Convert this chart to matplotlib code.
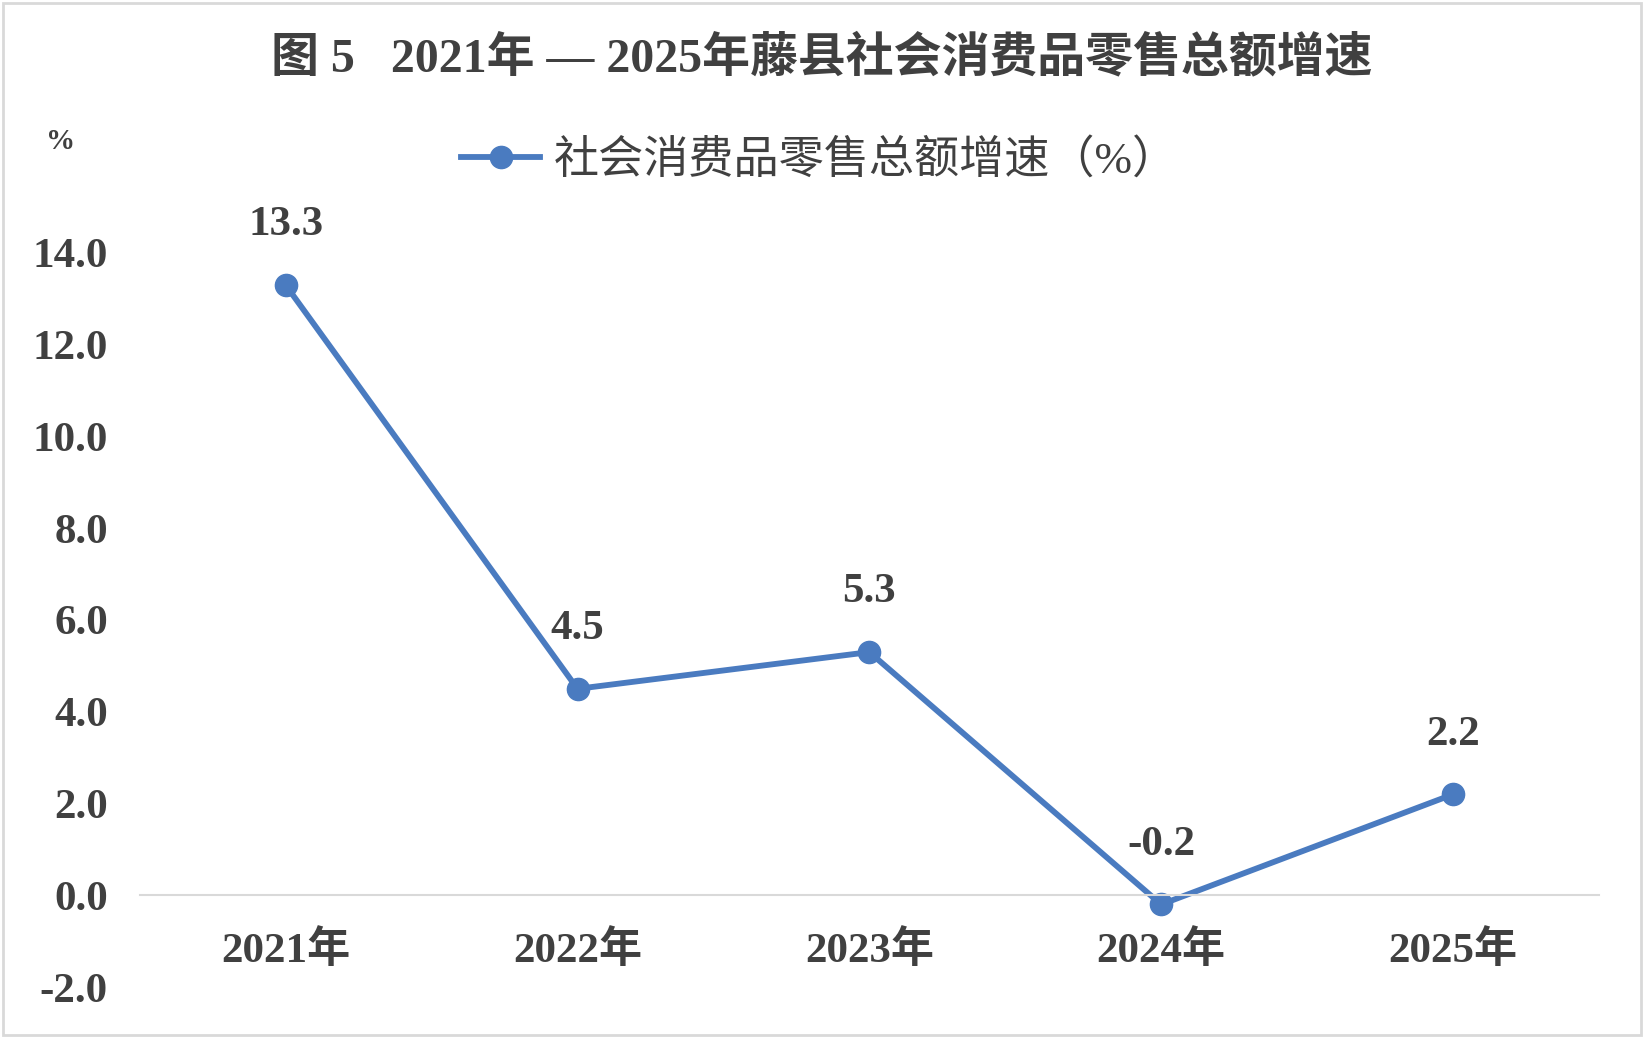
import numpy as np
import matplotlib.pyplot as plt
from matplotlib.patches import Rectangle

years = ['2021年', '2022年', '2023年', '2024年', '2025年']
growth = [13.3, 4.5, 5.3, -0.2, 2.2]
yticks = [-2.0, 0.0, 2.0, 4.0, 6.0, 8.0, 10.0, 12.0, 14.0]

title = '图 5   2021年 — 2025年藤县社会消费品零售总额增速'
series_name = '社会消费品零售总额增速（%）'

fam = ['Liberation Serif', 'Noto Sans CJK SC', 'DejaVu Sans']
plt.rcParams['font.family'] = fam
txt = '#404040'
blue = '#4a7bc0'

fig = plt.figure(figsize=(16.44, 10.38), dpi=100)
ax = fig.add_axes([0.0850, 0.0491, 0.8876, 0.7072])

# axis line crosses at zero, like the original chart
for s in ['top', 'right', 'left']:
    ax.spines[s].set_visible(False)
ax.spines['bottom'].set_position(('data', 0))
ax.spines['bottom'].set_color('#d9d9d9')
ax.spines['bottom'].set_linewidth(1.5)

x = np.arange(len(years))
ax.plot(x, growth, color=blue, lw=4.2, marker='o', ms=16, label=series_name)

for xi, v in zip(x, growth):
    ax.annotate(f'{v:.1f}', (xi, v), xytext=(0, 43), textcoords='offset points',
                ha='center', va='center', fontsize=31, fontweight='bold', color=txt)

ax.set_xlim(-0.5, len(years) - 0.5)
ax.set_ylim(-2, 14)
ax.set_yticks(yticks)
ax.set_yticklabels([f'{t:.1f}' for t in yticks], fontsize=31, fontweight='bold', color=txt)
ax.set_xticks(x)
ax.set_xticklabels(years, fontsize=31, fontweight='bold', color=txt)
ax.tick_params(axis='y', length=0, pad=23)
ax.tick_params(axis='x', length=0, pad=25)

fig.text(0.5, 0.944, title, ha='center', va='center', fontsize=34.5,
         fontweight='bold', color=txt)
fig.text(0.037, 0.864, '%', ha='center', va='center', fontsize=21,
         fontweight='bold', color=txt)

ax.legend(loc='center', bbox_to_anchor=(0.4985, 0.846), bbox_transform=fig.transFigure,
          frameon=False, fontsize=32.5, handlelength=1.75, handletextpad=0.3,
          labelcolor=txt)

fig.patches.append(Rectangle((0.002, 0.003), 0.996, 0.994, transform=fig.transFigure,
                             fill=False, edgecolor='#d9d9d9', lw=2))

fig.savefig('out.png', dpi=100)
